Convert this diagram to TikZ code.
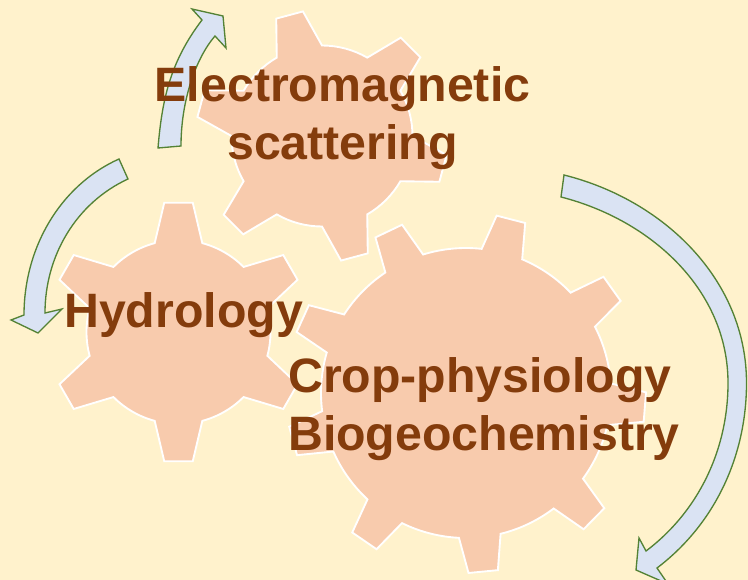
\documentclass[tikz,border=0pt]{standalone}
\usepackage{fontspec}
\setmainfont{Liberation Sans}
\definecolor{bgc}{HTML}{FFF2CC}
\definecolor{gearc}{HTML}{F8CBAD}
\definecolor{arrowc}{HTML}{DAE3F3}
\definecolor{arrowl}{HTML}{548235}
\definecolor{textc}{HTML}{843C0C}
\tikzset{
  gearshape/.style={fill=gearc,draw=white,line width=1.4pt,line join=miter},
  cyclearrow/.style={fill=arrowc,draw=arrowl,line width=1pt,line join=miter},
  gearlabel/.style={inner sep=0pt,text=textc,font=\fontsize{36.2}{43.5}\selectfont\bfseries}
}
% cx cy R tip basehalf tiphalf n rot
\newcommand{\geardraw}[8]{%
  \pgfmathsetmacro{\gst}{360/#7}%
  \pgfmathsetmacro{\gstart}{#8-#5}%
  \pgfmathtruncatemacro{\glast}{#7-1}%
  \path[gearshape,shift={(#1,#2)}] (\gstart:#3)
  \foreach \gi [evaluate=\gi as \ga using {#8+\gi*\gst},
                evaluate=\gi as \gb using {#8+\gi*\gst-#6},
                evaluate=\gi as \gc using {#8+\gi*\gst+#6},
                evaluate=\gi as \gd using {#8+\gi*\gst+#5},
                evaluate=\gi as \ge using {#8+(\gi+1)*\gst-#5}] in {0,...,\glast} {
     -- (\ga-#5:#3) -- (\gb:#4) -- (\gc:#4) -- (\gd:#3) arc[start angle=\gd,end angle=\ge,radius=#3]
  } -- cycle;
}
\begin{document}
\begin{tikzpicture}[x=0.75pt,y=-0.75pt]
\useasboundingbox (0,0) rectangle (748,580);
\clip (0,0) rectangle (748,580);
\fill[bgc] (0,0) rectangle (748,580);
\geardraw{178.5}{332}{92}{130}{15}{6.3}{6}{-90}
\geardraw{322}{136}{90.5}{126}{15}{6.3}{6}{-105}
\geardraw{466}{393}{145}{180}{8.3}{4.7}{9}{4.5}
% arrows
\path[cyclearrow] (158,148) .. controls (162,100) and (170,62) .. (202,20)
  -- (192,9) -- (223,16) -- (226,48) -- (215,36)
  .. controls (196,58) and (181,100) .. (181,146) -- cycle;
\path[cyclearrow] (119,159) .. controls (59,186) and (24,249) .. (24,315)
  -- (11,320) -- (38,333) -- (62,309) -- (45,313)
  .. controls (45,256) and (76,203) .. (128,179) -- cycle;
\path[cyclearrow] (564,175) .. controls (664,200) and (746.5,280) .. (746.5,383)
  .. controls (746.5,456) and (715,524) .. (657,568)
  -- (668,584) -- (636,570) -- (639,538) -- (646,551)
  .. controls (699,511) and (728,449) .. (728,383)
  .. controls (728,290) and (651,220) .. (561,197) -- cycle;
% labels
\node[gearlabel,align=center] (em) at (342.5,118.5) {Electromagnetic\\scattering};
\node[gearlabel,anchor=base] (hy) at (183.5,327) {Hydrology};
\node[gearlabel,align=left] (cp) at (484,409.5) {Crop-physiology\\Biogeochemistry};
\end{tikzpicture}
\end{document}
